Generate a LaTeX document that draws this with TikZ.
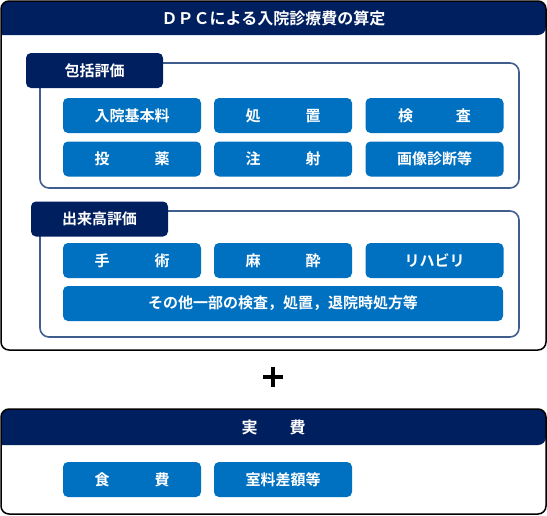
\documentclass[tikz,border=0pt]{standalone}
\usepackage{fontspec}
\setmainfont{Noto Sans CJK JP}[BoldFont={Noto Sans CJK JP Bold}]
\definecolor{navy}{HTML}{001F5F}
\definecolor{btn}{HTML}{0070C0}
\definecolor{frm}{HTML}{3F5E8E}
\tikzset{
  btnbox/.style={fill=btn, rounded corners=5pt, text=white, font=\bfseries\fontsize{15}{15}\selectfont, minimum width=138pt, minimum height=35pt, inner sep=0pt},
  tabbox/.style={fill=navy, rounded corners=5pt, text=white, font=\bfseries\fontsize{15}{15}\selectfont, minimum width=137pt, minimum height=35pt, inner sep=0pt},
  frmbox/.style={draw=frm, line width=1.6pt, rounded corners=9pt},
  headtext/.style={text=white, font=\bfseries\fontsize{16}{16}\selectfont, inner sep=0pt},
  outerbox/.style={draw=black, line width=1.5pt, rounded corners=8pt},
}
\newcommand{\spread}[3]{\makebox[#1]{#2\hfill #3}}
\begin{document}
\begin{tikzpicture}[x=1pt,y=-1pt]
\useasboundingbox (0,0) rectangle (547,515);
% box 1
\fill[navy, rounded corners=8pt] (1,35) -- (1,1) -- (546,1) -- (546,35) [sharp corners]-- cycle;
\node[headtext] (h1) at (273.5,18) {ＤＰＣによる入院診療費の算定};
\draw[outerbox] (1,1) rectangle (546,350);
% group 1
\draw[frmbox] (40,63) rectangle (519,188);
\node[tabbox] (t1) at (94.5,70.5) {包括評価};
\node[btnbox] (b11) at (132,115.5) {入院基本料};
\node[btnbox] (b12) at (283,115.5) {\spread{75pt}{処}{置}};
\node[btnbox] (b13) at (434.5,115.5) {\spread{73pt}{検}{査}};
\node[btnbox] (b21) at (132,159) {\spread{75pt}{投}{薬}};
\node[btnbox] (b22) at (283,159) {\spread{75pt}{注}{射}};
\node[btnbox] (b23) at (434.5,159) {画像診断等};
% group 2
\draw[frmbox] (40,211) rectangle (519,337);
\node[tabbox] (t2) at (99.5,219) {出来高評価};
\node[btnbox] (c11) at (132,260.5) {\spread{75pt}{手}{術}};
\node[btnbox] (c12) at (283,260.5) {\spread{75pt}{麻}{酔}};
\node[btnbox] (c13) at (434.5,260.5) {リハビリ};
\node[btnbox, minimum width=440pt] (c2) at (283,303.5) {その他一部の検査，処置，退院時処方等};
% plus
\draw[line width=4pt] (263,377) -- (283,377);
\draw[line width=4pt] (273,367) -- (273,387);
% box 2
\fill[navy, rounded corners=8pt] (1,445) -- (1,409) -- (546,409) -- (546,445) [sharp corners]-- cycle;
\node[headtext] (h2) at (273.5,427) {\spread{64pt}{実}{費}};
\draw[outerbox] (1,409) rectangle (546,514);
\node[btnbox] (d1) at (132,479.5) {\spread{75pt}{食}{費}};
\node[btnbox] (d2) at (283,479.5) {室料差額等};
\end{tikzpicture}
\end{document}
